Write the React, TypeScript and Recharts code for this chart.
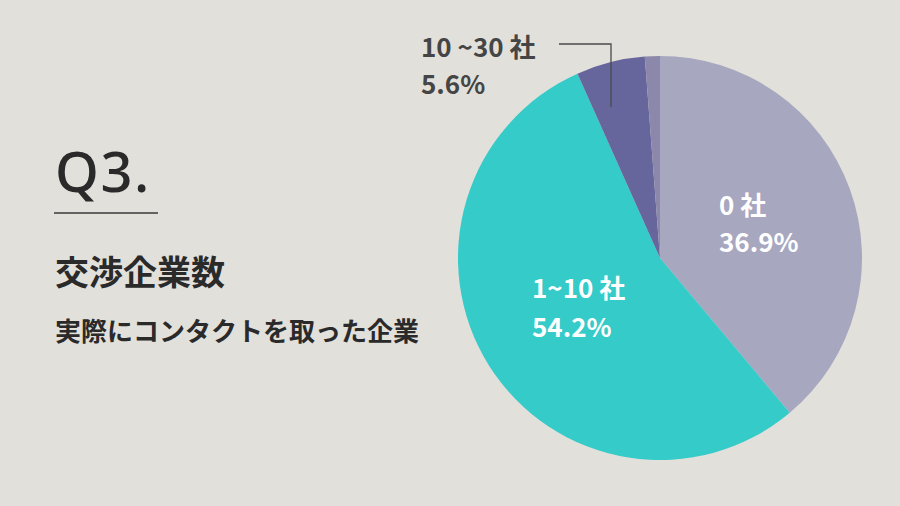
import { Pie, PieChart, Cell } from "recharts";

// slice order runs clockwise from 12 o'clock
const categories = ["0 社", "1~10 社", "10 ~30 社", "その他"];
// angular shares
const shares = [38.9, 54.4, 5.5, 1.2];
// percentages printed on the chart
const percentLabels = ["36.9%", "54.2%", "5.6%", ""];

const SLICE_COLORS = ["#a7a7bf", "#34cbc9", "#67669c", "#8b88ab"];
const BG = "#e2e0db";
const TEXT_DARK = "#2a2a2a";

// recharts adds its 5px default margin to numeric cx/cy
const CX = 655;
const CY = 253;
const RADIUS = 202;

// label anchor offsets from the pie centre (x, name baseline, percent baseline)
const LABEL_OFFSETS: Array<[number, number, number] | null> = [
  [59, -43, -6],
  [-128, 40, 79],
  [-239, -201, -164],
  null
];

const chartData = categories.map((name, i) => ({ name, value: shares[i], pct: percentLabels[i] }));

const labelFont = "'Noto Sans CJK JP', 'Noto Sans', sans-serif";

function SliceLabel(props: any) {
  const { cx, cy, index } = props;
  const off = LABEL_OFFSETS[index];
  if (!off) {
    return null;
  }
  const outside = index === 2;
  const fill = outside ? "#454545" : "#ffffff";
  const x = cx + off[0];
  return (
    <g>
      <text x={x} y={cy + off[1]} fill={fill} fontSize={26} fontWeight={600} fontFamily={labelFont}>
        {chartData[index].name}
      </text>
      <text x={x} y={cy + off[2]} fill={fill} fontSize={26} fontWeight={600} fontFamily={labelFont}>
        {chartData[index].pct}
      </text>
      {outside && (
        <polyline
          points={`${cx - 101},${cy - 214} ${cx - 49},${cy - 214} ${cx - 49},${cy - 151}`}
          fill="none"
          stroke="#4a4a4a"
          strokeWidth={1.3}
        />
      )}
    </g>
  );
}

export default function App() {
  return (
    <div style={{ position: "relative", width: 900, height: 506, background: BG, overflow: "hidden" }}>
      <style>{`body{margin:0}`}</style>
      <svg width={900} height={506} style={{ position: "absolute", left: 0, top: 0 }}>
        <text x={55} y={192} fontSize={56} fontFamily="'Noto Sans', sans-serif" fontWeight={500} fill={TEXT_DARK} letterSpacing={1.5}>
          Q3.
        </text>
        <line x1={54} x2={158} y1={213} y2={213} stroke="#3a3a3a" strokeWidth={1.3} />
        <text x={55} y={285} fontSize={34} fontFamily={labelFont} fontWeight={700} fill={TEXT_DARK}>
          交渉企業数
        </text>
        <text x={55} y={341} fontSize={26} fontFamily={labelFont} fontWeight={600} fill={TEXT_DARK}>
          実際にコンタクトを取った企業
        </text>
      </svg>
      <div style={{ position: "absolute", left: 0, top: 0 }}>
        <PieChart width={900} height={506}>
          <Pie
            data={chartData}
            dataKey="value"
            nameKey="name"
            cx={CX}
            cy={CY}
            outerRadius={RADIUS}
            startAngle={90}
            endAngle={-270}
            stroke="none"
            label={SliceLabel}
            labelLine={false}
            isAnimationActive={false}
          >
            {chartData.map((d, i) => (
              <Cell key={d.name} fill={SLICE_COLORS[i]} />
            ))}
          </Pie>
        </PieChart>
      </div>
    </div>
  );
}
